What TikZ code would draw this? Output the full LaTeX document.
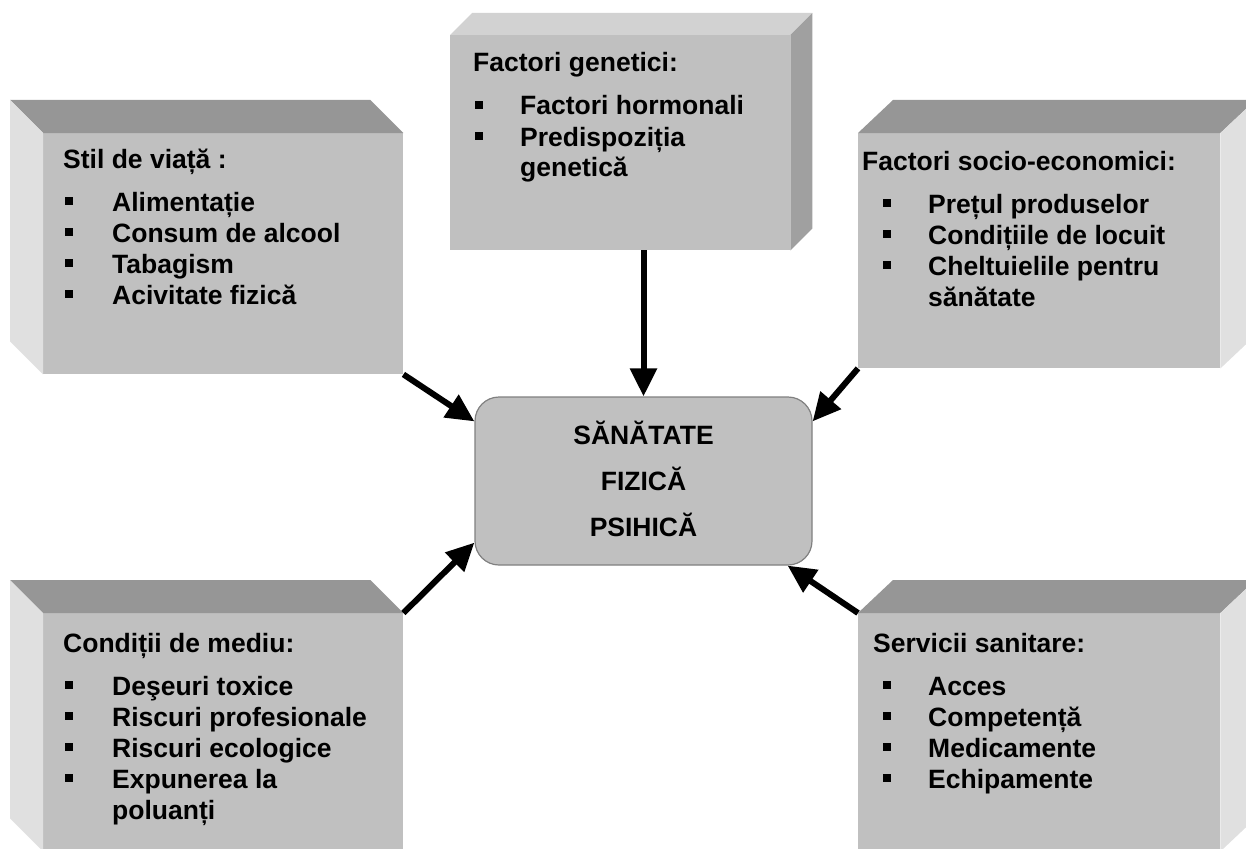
\documentclass[tikz,border=0pt]{standalone}
\usepackage{fontspec}
\setmainfont{Liberation Sans}
\usepackage{array}
\usetikzlibrary{arrows.meta,calc}

\definecolor{facefront}{HTML}{C0C0C0}
\definecolor{facedark}{HTML}{969696}
\definecolor{facelight}{HTML}{E0E0E0}
\definecolor{facetop}{HTML}{D2D2D2}
\definecolor{faceshade}{HTML}{A0A0A0}
\definecolor{rimgray}{HTML}{808080}

% square bullet
\newcommand\blt{\rule[6pt]{8pt}{8pt}}
% #1 bullet indent, #2 item indent, #3 rows
\newcommand\boxlist[3]{%
  \begin{tabular}[t]{@{\hspace*{#1}}p{\dimexpr#2-#1\relax}@{}l@{}}#3\end{tabular}}
\newcommand\head[1]{\multicolumn{2}{@{}l@{}}{#1}\\[12pt]}

\tikzset{
  front/.style={rectangle, fill=facefront, inner sep=0pt, anchor=north west},
  boxtext/.style={anchor=base west, inner sep=0pt,
    font=\fontsize{26.5}{31}\selectfont\bfseries},
  hub/.style={rectangle, rounded corners=24pt, fill=facefront, draw=rimgray,
    line width=1.2pt, minimum width=337pt, minimum height=168pt,
    align=center, font=\fontsize{26.5}{31}\selectfont\bfseries},
  arr/.style={line width=6pt, -{Triangle[length=28pt,width=26pt]}},
}

\begin{document}
\begin{tikzpicture}[x=1pt,y=-1pt]
\useasboundingbox (0,0) rectangle (1246,848);

% front faces of the five boxes
\node[front, minimum width=360pt, minimum height=241pt] (b1) at (43,133) {};
\node[front, minimum width=340pt, minimum height=215pt] (b2) at (450,35) {};
\node[front, minimum width=362pt, minimum height=235pt] (b3) at (858,133) {};
\node[front, minimum width=360pt, minimum height=238pt] (b4) at (43,613) {};
\node[front, minimum width=362pt, minimum height=238pt] (b5) at (858,613) {};

% depth faces: left boxes recede up-left, right boxes up-right
\fill[facedark] (b1.north west) -- (b1.north east) -- ++(-33,-33)
  -- ($(b1.north west)+(-33,-33)$) -- cycle;
\fill[facelight] (b1.north west) -- ++(-33,-33)
  -- ($(b1.south west)+(-33,-33)$) -- (b1.south west) -- cycle;

\fill[facedark] (b4.north west) -- (b4.north east) -- ++(-33,-33)
  -- ($(b4.north west)+(-33,-33)$) -- cycle;
\fill[facelight] (b4.north west) -- ++(-33,-33)
  -- ($(b4.south west)+(-33,-33)$) -- (b4.south west) -- cycle;

\fill[facetop] (b2.north west) -- (b2.north east) -- ++(22,-22)
  -- ($(b2.north west)+(22,-22)$) -- cycle;
\fill[faceshade] (b2.north east) -- ++(22,-22)
  -- ($(b2.south east)+(22,-22)$) -- (b2.south east) -- cycle;

\fill[facedark] (b3.north west) -- (b3.north east) -- ++(35,-33)
  -- ($(b3.north west)+(35,-33)$) -- cycle;
\fill[facelight] (b3.north east) -- ++(35,-33)
  -- ($(b3.south east)+(35,-33)$) -- (b3.south east) -- cycle;

\fill[facedark] (b5.north west) -- (b5.north east) -- ++(35,-33)
  -- ($(b5.north west)+(35,-33)$) -- cycle;
\fill[facelight] (b5.north east) -- ++(35,-33)
  -- ($(b5.south east)+(35,-33)$) -- (b5.south east) -- cycle;

% box texts
\node[boxtext] (t1) at (63,168) {\boxlist{2pt}{49pt}{%
  \head{Stil de viață :}
  \blt & Alimentație\\
  \blt & Consum de alcool\\
  \blt & Tabagism\\
  \blt & Acivitate fizică}};

\node[boxtext] (t2) at (473,72) {\boxlist{2pt}{47pt}{%
  \head{Factori genetici:}
  \blt & Factori hormonali\\
  \blt & Predispoziția\\
       & genetică}};

\node[boxtext] (t3) at (862,170) {\boxlist{21pt}{66pt}{%
  \head{Factori socio-economici:}
  \blt & Prețul produselor\\
  \blt & Condițiile de locuit\\
  \blt & Cheltuielile pentru\\
       & sănătate}};

\node[boxtext] (t4) at (63,652) {\boxlist{2pt}{49pt}{%
  \head{Condiții de mediu:}
  \blt & Deşeuri toxice\\
  \blt & Riscuri profesionale\\
  \blt & Riscuri ecologice\\
  \blt & Expunerea la\\
       & poluanți}};

\node[boxtext] (t5) at (873,652) {\boxlist{10pt}{55pt}{%
  \head{Servicii sanitare:}
  \blt & Acces\\
  \blt & Competență\\
  \blt & Medicamente\\
  \blt & Echipamente}};

% central node
\node[hub] (c) at (643.5,481) {\raisebox{4pt}{SĂNĂTATE}\\[15pt]\raisebox{4pt}{FIZICĂ}\\[15pt]\raisebox{4pt}{PSIHICĂ}};

% influences
\draw[arr] (c.north |- b2.south) -- (c.north);
\draw[arr] (b1.south east) -- ($(c.north west)+(0,25)$);
\draw[arr] (b3.south west) -- ($(c.north east)+(0,25)$);
\draw[arr] (b4.north east) -- ($(c.south west)+(0,-23)$);
\draw[arr] (b5.north west) -- ($(c.south east)+(-25,0)$);
\end{tikzpicture}
\end{document}
